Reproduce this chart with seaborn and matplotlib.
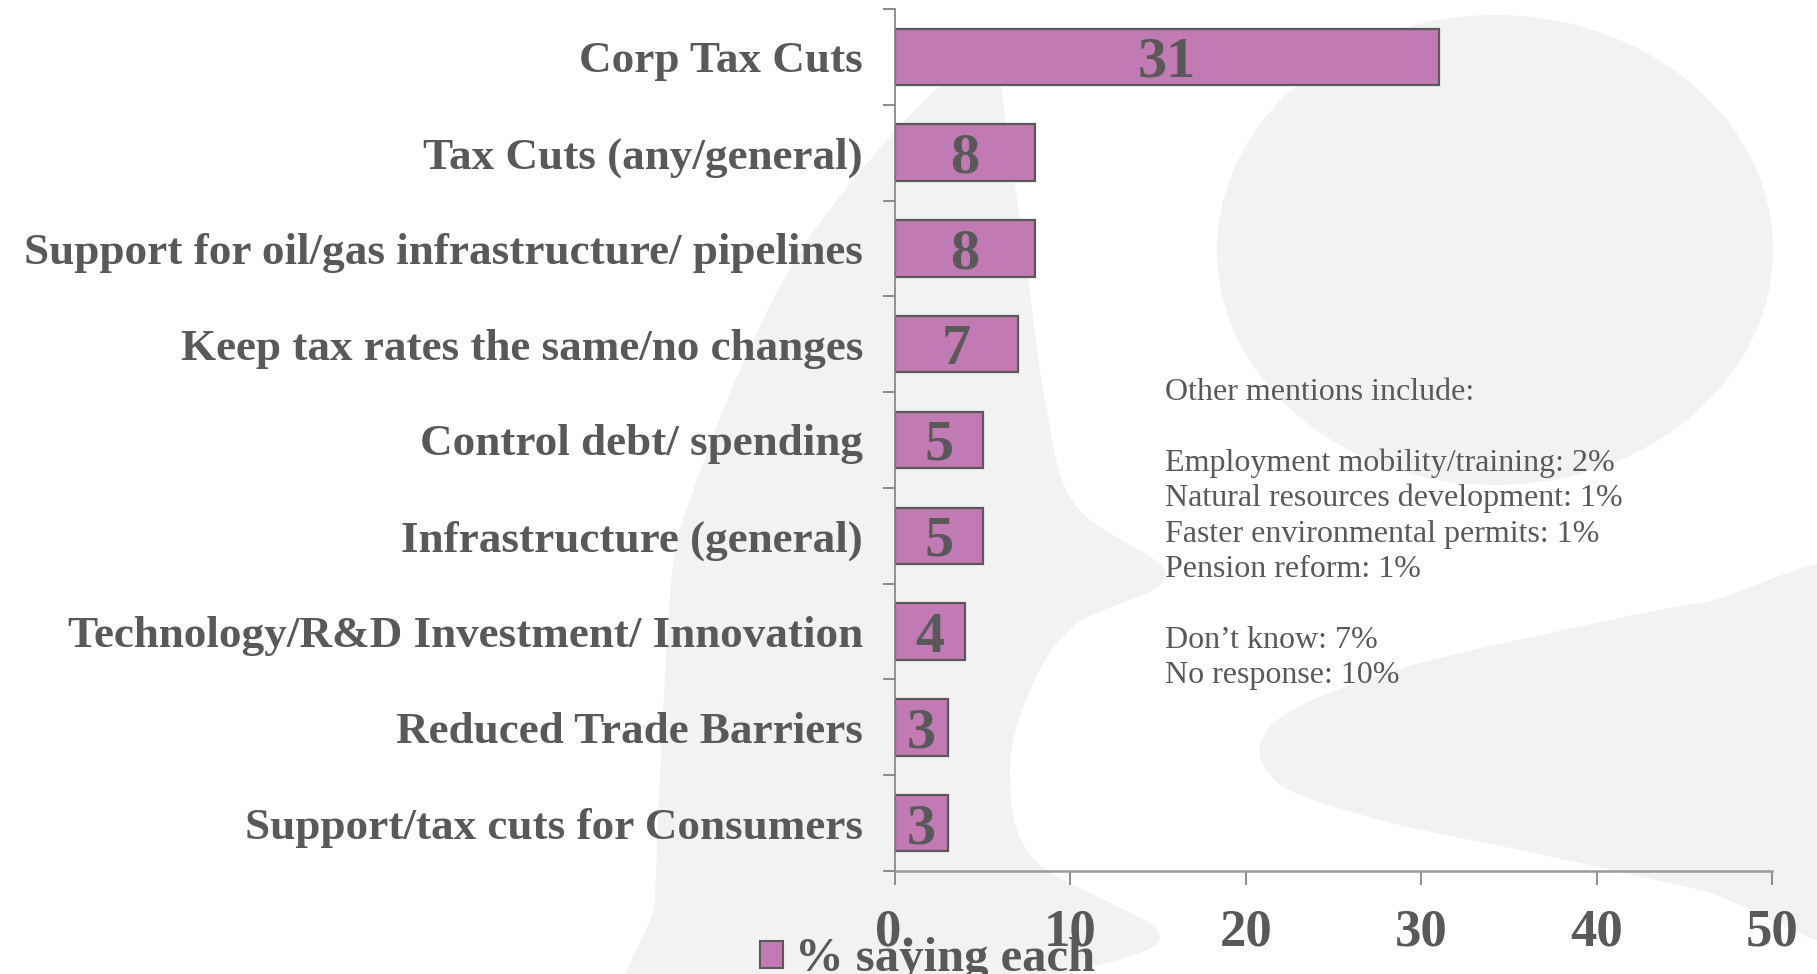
import numpy as np
import matplotlib
matplotlib.use("Agg")
import matplotlib.pyplot as plt
from matplotlib.patches import Ellipse, Polygon, Patch
import seaborn as sns

# ---- data -------------------------------------------------------------
CATEGORIES = [
    "Corp Tax Cuts",
    "Tax Cuts (any/general)",
    "Support for oil/gas infrastructure/ pipelines",
    "Keep tax rates the same/no changes",
    "Control debt/ spending",
    "Infrastructure (general)",
    "Technology/R&D Investment/ Innovation",
    "Reduced Trade Barriers",
    "Support/tax cuts for Consumers",
]
VALUES = [31, 8, 8, 7, 5, 5, 4, 3, 3]
SERIES_NAME = "% saying each"
X_TICKS = [0, 10, 20, 30, 40, 50]
X_TICK_LABELS = ["0.", "10", "20", "30", "40", "50"]
NOTE_LINES = [
    "Other mentions include:",
    "",
    "Employment mobility/training: 2%",
    "Natural resources development: 1%",
    "Faster environmental permits: 1%",
    "Pension reform: 1%",
    "",
    "Don\u2019t know: 7%",
    "No response: 10%",
]

# ---- style ------------------------------------------------------------
BAR = "#C17AB4"
EDGE = "#595959"
TEXT = "#595959"
SHAPE = "#F2F2F2"
W, H = 1817, 974

sns.set_style("white")
plt.rcParams["font.family"] = ["Liberation Serif", "DejaVu Serif"]

fig = plt.figure(figsize=(W / 100, H / 100), dpi=100, facecolor="white")


def smooth_closed(points, n=24):
    """Closed Catmull-Rom outline through the given points."""
    pts = np.asarray(points, float)
    m = len(pts)
    t = np.linspace(0, 1, n, endpoint=False)[:, None]
    out = []
    for i in range(m):
        p0, p1, p2, p3 = pts[(i - 1) % m], pts[i], pts[(i + 1) % m], pts[(i + 2) % m]
        seg = 0.5 * (2 * p1 + (-p0 + p2) * t + (2 * p0 - 5 * p1 + 4 * p2 - p3) * t ** 2
                     + (-p0 + 3 * p1 - 3 * p2 + p3) * t ** 3)
        out.append(seg)
    return np.vstack(out)


# decorative background emblem, drawn in pixel space behind the chart
bg = fig.add_axes([0, 0, 1, 1], zorder=-1)
bg.set_xlim(0, W)
bg.set_ylim(H, 0)
bg.axis("off")

band = [(990, 45), (1008, 140), (1025, 255), (1045, 400), (1075, 505), (1166, 575),
        (1075, 625), (1030, 690), (1010, 773), (1035, 860), (1160, 935), (1066, 978),
        (1040, 1020), (650, 1020), (655, 900), (660, 775), (672, 575), (690, 500),
        (740, 370), (798, 255), (870, 160), (940, 85)]
lobe = [(1880, 582), (1700, 603), (1550, 633), (1420, 663), (1330, 693), (1280, 718),
        (1260, 745), (1268, 772), (1300, 795), (1400, 825), (1529, 852), (1700, 890),
        (1880, 930)]
bg.add_patch(Polygon(smooth_closed(band), closed=True, facecolor=SHAPE, edgecolor="none"))
bg.add_patch(Polygon(smooth_closed(lobe), closed=True, facecolor=SHAPE, edgecolor="none"))
bg.add_patch(Ellipse((1495, 250), 556, 470, facecolor=SHAPE, edgecolor="none"))

# ---- main chart -------------------------------------------------------
ax = fig.add_axes([895 / W, 1 - 871 / H, (1772 - 895) / W, (871 - 9) / H])
ax.patch.set_alpha(0)

sns.barplot(x=VALUES, y=CATEGORIES, orient="h", color=BAR, saturation=1,
            edgecolor=EDGE, linewidth=1.6, width=0.59, ax=ax)

ax.set_xlim(0, 50)
ax.set_ylim(len(CATEGORIES) - 0.5, -0.5)
ax.set_xlabel("")
ax.set_ylabel("")

for i, v in enumerate(VALUES):
    ax.text(v / 2, i, str(v), ha="center", va="center_baseline",
            fontsize=42, fontweight="bold", color=TEXT)

ax.set_yticks(range(len(CATEGORIES)))
ax.set_yticklabels(CATEGORIES, fontsize=32.5, fontweight="bold", color=TEXT)
ax.set_yticks(np.arange(-0.5, len(CATEGORIES), 1), minor=True)
ax.tick_params(axis="y", which="major", left=False, length=0, pad=23)
ax.tick_params(axis="y", which="minor", left=True, length=8.5, width=1.1,
               color="#6f6f6f", direction="out")

ax.set_xticks(X_TICKS)
ax.set_xticklabels(X_TICK_LABELS, fontsize=38, fontweight="bold", color=TEXT)
ax.tick_params(axis="x", which="major", bottom=True, length=10, width=1.1,
               color="#6f6f6f", direction="out", pad=17)

for side in ("top", "right"):
    ax.spines[side].set_visible(False)
ax.spines["left"].set_color("#7f7f7f")
ax.spines["left"].set_linewidth(1.2)
ax.spines["bottom"].set_color("#9a9a9a")
ax.spines["bottom"].set_linewidth(1.8)

leg = ax.legend(handles=[Patch(facecolor=BAR, edgecolor=EDGE, linewidth=1.5, label=SERIES_NAME)],
                loc="lower left", bbox_to_anchor=(760 / W, -0.0077),
                bbox_transform=fig.transFigure, frameon=False,
                prop={"weight": "bold", "size": 35}, labelcolor=TEXT,
                handlelength=0.48, handleheight=0.48, handletextpad=0.23,
                borderpad=0, borderaxespad=0)

# side note with the smaller mentions
for k, line in enumerate(NOTE_LINES):
    if line:
        fig.text(1165 / W, 1 - (389 + k * 35.4) / H, line, fontsize=23,
                 color=TEXT, va="center_baseline", ha="left")

fig.savefig("out.png", dpi=100, facecolor="white")
